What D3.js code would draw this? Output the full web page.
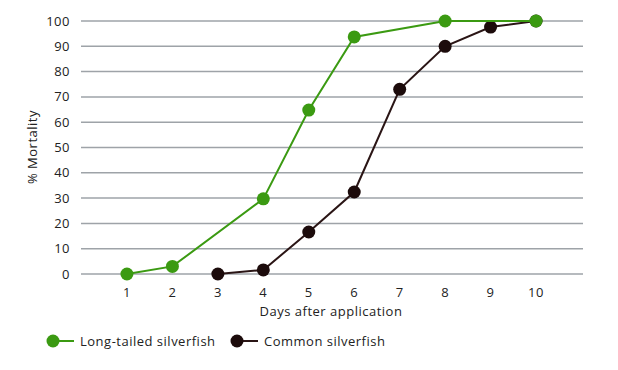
<!DOCTYPE html>
<html>
<head>
<meta charset="utf-8">
<script src="https://cdn.jsdelivr.net/npm/d3@7"></script>
<style>
  body { margin: 0; background: #fff; }
  text { font-family: "Open Sans", "Noto Sans", sans-serif; fill: #222; letter-spacing: 0.5px; }
</style>
</head>
<body>
<div id="chart"></div>
<script>
// data
var yTicks = [0, 10, 20, 30, 40, 50, 60, 70, 80, 90, 100];
var days = [1, 2, 3, 4, 5, 6, 7, 8, 9, 10];
var longTailedDays = [1, 2, 4, 5, 6, 8, 10];
var longTailedValues = [0, 3, 29.7, 64.8, 93.7, 100, 100];
var commonDays = [3, 4, 5, 6, 7, 8, 9, 10];
var commonValues = [0, 1.6, 16.6, 32.4, 73, 90, 97.6, 100];
var seriesNames = ["Long-tailed silverfish", "Common silverfish"];

var width = 618, height = 370;
var green = "#3b9a12", dark = "#1c0b0b", darkLine = "#2a1515";

var svg = d3.select("#chart").append("svg")
  .attr("width", width)
  .attr("height", height);

var x = d3.scaleLinear().domain([0, 11]).range([81.5, 581.5]);
var y = d3.scaleLinear().domain([0, 100]).range([274, 21]);

// gridlines
svg.append("g")
  .selectAll("line")
  .data(yTicks)
  .enter().append("line")
  .attr("x1", 81).attr("x2", 583)
  .attr("y1", function(d) { return y(d); })
  .attr("y2", function(d) { return y(d); })
  .attr("stroke", "#9ea3a8")
  .attr("stroke-width", 1.5);

// y tick labels
svg.append("g")
  .selectAll("text")
  .data(yTicks)
  .enter().append("text")
  .attr("x", 70)
  .attr("y", function(d) { return y(d); })
  .attr("dy", "0.35em")
  .attr("text-anchor", "end")
  .style("font-size", "13px")
  .text(function(d) { return d; });

// x tick labels
svg.append("g")
  .selectAll("text")
  .data(days)
  .enter().append("text")
  .attr("x", function(d) { return x(d); })
  .attr("y", 292)
  .attr("dy", "0.35em")
  .attr("text-anchor", "middle")
  .style("font-size", "13px")
  .text(function(d) { return d; });

svg.append("text")
  .attr("x", 331)
  .attr("y", 311)
  .attr("dy", "0.35em")
  .attr("text-anchor", "middle")
  .style("font-size", "13px")
  .text("Days after application");

svg.append("text")
  .attr("transform", "translate(32,147) rotate(-90)")
  .attr("dy", "0.35em")
  .attr("text-anchor", "middle")
  .style("font-size", "13px")
  .text("% Mortality");

var line = d3.line()
  .x(function(d) { return x(d[0]); })
  .y(function(d) { return y(d[1]); });

function drawSeries(xs, vals, lineColor, dotColor) {
  var pts = d3.zip(xs, vals);
  svg.append("path")
    .datum(pts)
    .attr("d", line)
    .attr("fill", "none")
    .attr("stroke", lineColor)
    .attr("stroke-width", 2);
  svg.append("g")
    .selectAll("circle")
    .data(pts)
    .enter().append("circle")
    .attr("cx", function(d) { return x(d[0]); })
    .attr("cy", function(d) { return y(d[1]); })
    .attr("r", 6.5)
    .attr("fill", dotColor);
}

drawSeries(commonDays, commonValues, darkLine, dark);
drawSeries(longTailedDays, longTailedValues, green, green);

// legend
var legend = [
  { name: seriesNames[0], color: green, line: green, x: 47 },
  { name: seriesNames[1], color: dark, line: darkLine, x: 231 }
];
var lg = svg.append("g")
  .selectAll("g")
  .data(legend)
  .enter().append("g")
  .attr("transform", function(d) { return "translate(" + d.x + ",341)"; });
lg.append("line")
  .attr("x1", 0).attr("x2", 27)
  .attr("stroke", function(d) { return d.line; })
  .attr("stroke-width", 2);
lg.append("circle")
  .attr("cx", 6)
  .attr("r", 6.5)
  .attr("fill", function(d) { return d.color; });
lg.append("text")
  .attr("x", 33)
  .attr("dy", "0.35em")
  .style("font-size", "13px")
  .text(function(d) { return d.name; });
</script>
</body>
</html>
